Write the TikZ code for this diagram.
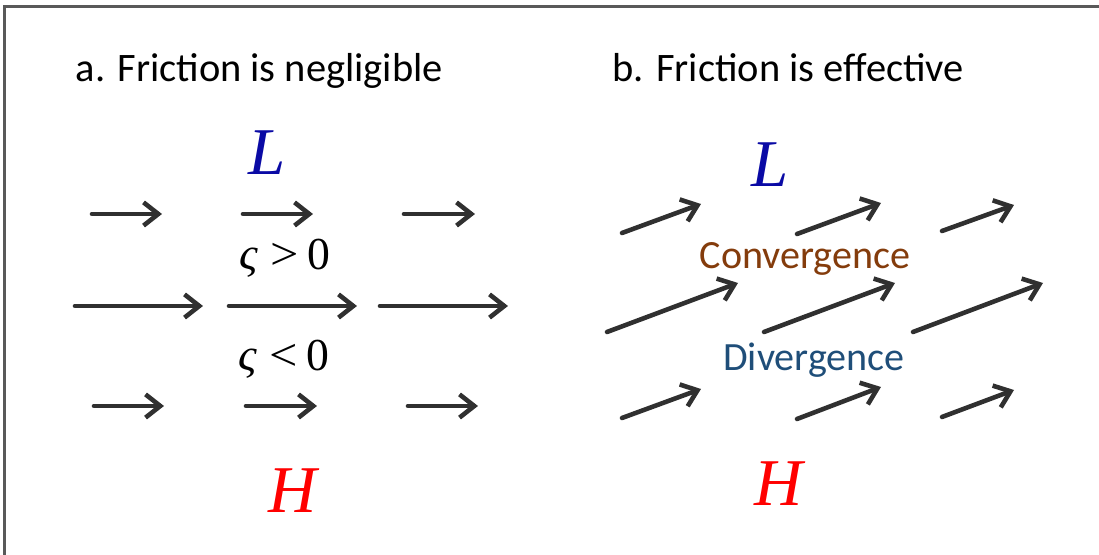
\documentclass[tikz,border=0pt]{standalone}
\usepackage{fontspec}
\setmainfont{Carlito}
\newfontfamily\timesfont{Liberation Serif}
\usetikzlibrary{arrows.meta}
\definecolor{vecgray}{HTML}{303030}
\definecolor{lowblue}{RGB}{10,10,165}
\definecolor{convbrown}{HTML}{843C0C}
\definecolor{divblue}{HTML}{1F4E79}
\tikzset{
  vec/.style={draw=vecgray, line width=1.3pt, line cap=round, line join=round,
    -{Straight Barb[length=4.2pt,width=6.6pt]}},
  title/.style={anchor=base west, inner sep=0pt, font=\fontsize{11.5}{13}\selectfont},
  press/.style={anchor=base, inner sep=0pt, font=\timesfont\itshape\fontsize{19}{22}\selectfont},
  zeta/.style={anchor=base, inner sep=0pt, font=\timesfont\fontsize{13}{15}\selectfont},
  flow/.style={anchor=base, inner sep=0pt, font=\fontsize{11.4}{13}\selectfont}
}
\newcommand{\zrel}[1]{{\itshape ς}\hspace{3.6pt}#1\hspace{2.4pt}0}
\begin{document}
\begin{tikzpicture}[x=0.01cm, y=-0.01cm]
\useasboundingbox (0,0) rectangle (1099,555);
% frame
\draw[gray!70!black, line width=0.6pt] (4.5,555) -- (4.5,6.5) -- (1099,6.5);

% a. friction negligible
\node[title] (ta) at (75,82) {a. Friction is negligible};
\node[press, text=lowblue] (La) at (267,175) {L};
\node[press, text=red] (Ha) at (293,513) {H};
\node[zeta] (zpos) at (285,270) {\zrel{\scalebox{1.1}[1]{>}}};
\node[zeta] (zneg) at (284,371) {\zrel{\scalebox{1.1}[1]{<}}};
\foreach \xa/\xb/\y in {92/162/214, 243/313/214, 404/475/214,
                        75/203/306, 229/357/306, 380/508/306,
                        94/164/406, 246/317/406, 408/478/406}
  \draw[vec] (\xa,\y) -- (\xb,\y);

% b. friction effective
\node[title] (tb) at (612,82) {b. Friction is effective};
\node[press, text=lowblue] (Lb) at (770,187) {L};
\node[press, text=red] (Hb) at (779,506) {H};
\node[flow, text=convbrown] (conv) at (805,269) {Convergence};
\node[flow, text=divblue] (div) at (814,371) {Divergence};
\foreach \xa/\ya/\xb/\yb in {622/233/701/204, 797/234/881/203, 942/231/1014/205,
                             607/332/738/283, 764/332/895/283, 913/332/1043/283,
                             622/418/701/389, 797/419/881/387, 942/417/1014/390}
  \draw[vec] (\xa,\ya) -- (\xb,\yb);
\end{tikzpicture}
\end{document}
